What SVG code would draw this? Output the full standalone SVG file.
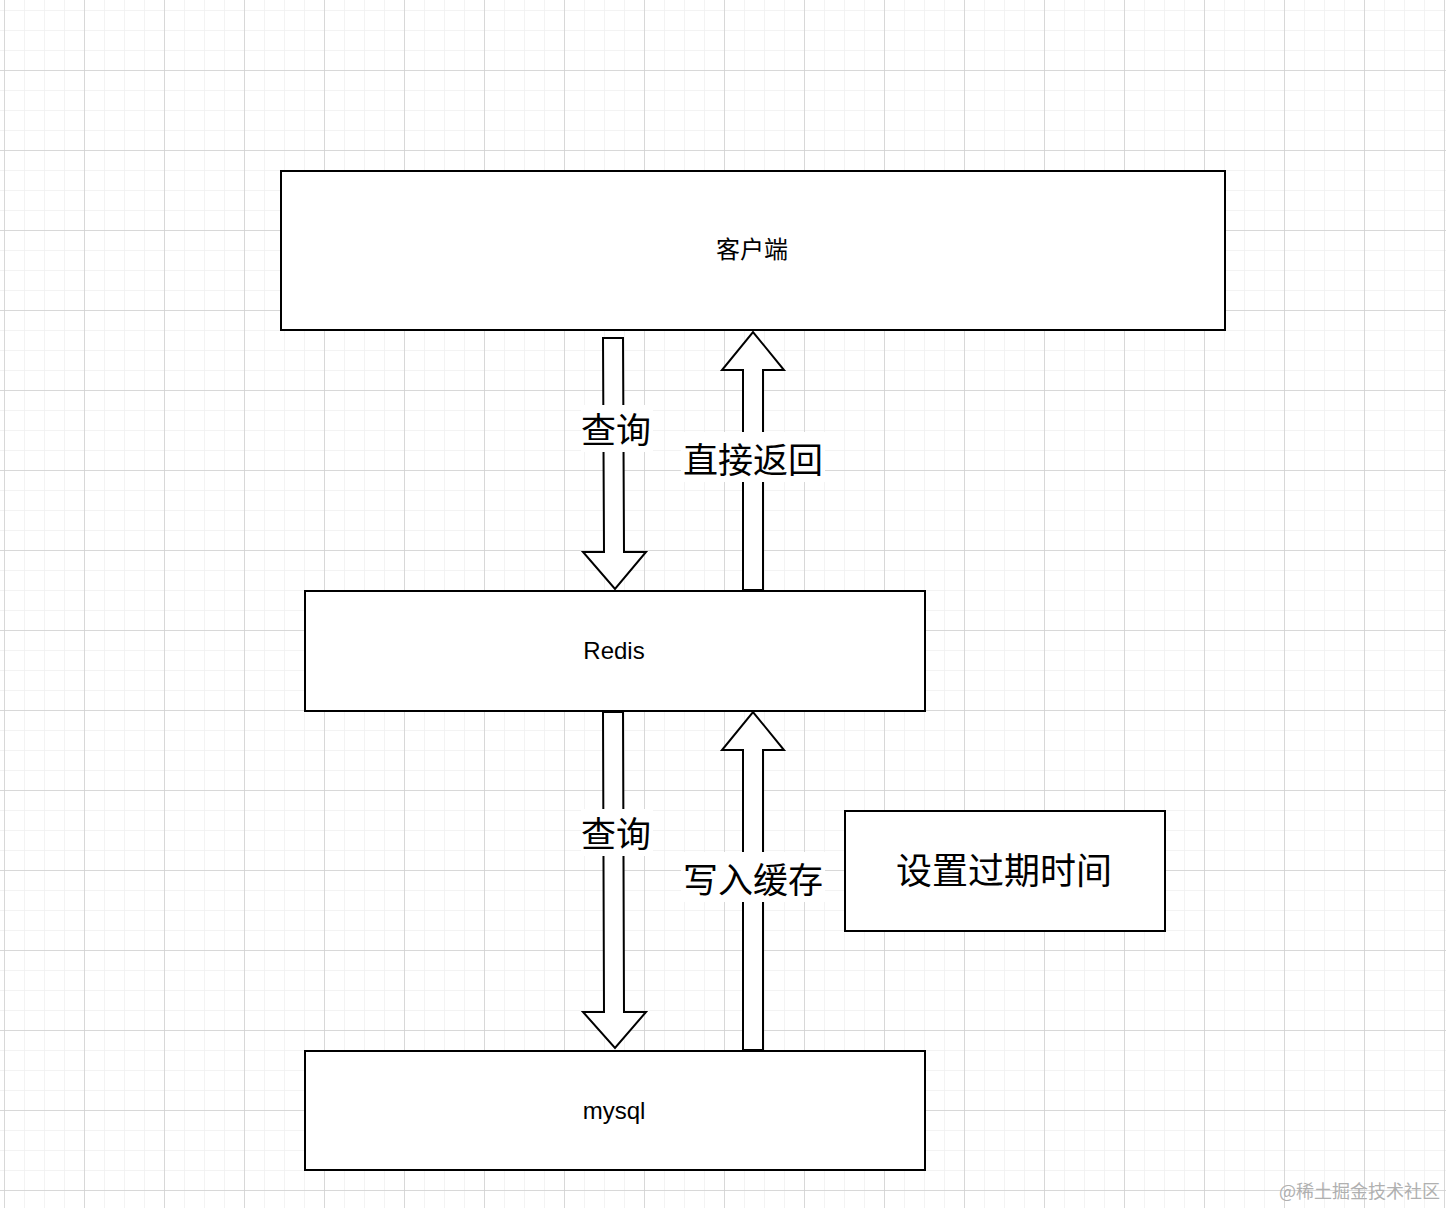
<svg xmlns="http://www.w3.org/2000/svg" width="1446" height="1208" viewBox="0 0 1446 1208">
<defs>
<pattern id="minor" x="4" y="10" width="20" height="20" patternUnits="userSpaceOnUse">
<path d="M0 0H20M0 0V20" fill="none" stroke="#f0f0f0" stroke-width="1.5"/>
</pattern>
<pattern id="major" x="4" y="70" width="80" height="80" patternUnits="userSpaceOnUse">
<path d="M0 0H80M0 0V80" fill="none" stroke="#cfcfcf" stroke-width="1.5"/>
</pattern>
<style>
.box{fill:#fff;stroke:#000;stroke-width:2}
.arr{fill:#fff;stroke:#000;stroke-width:2;stroke-linejoin:miter}
.bg{fill:#fff}
.lbl{font-family:"Noto Sans CJK SC","Noto Sans",sans-serif;font-size:35px;fill:#000;text-anchor:middle;dominant-baseline:central}
.big{font-size:36px}
.nt{font-family:"Liberation Sans","Noto Sans CJK SC",sans-serif;font-size:24px;fill:#000;text-anchor:middle;dominant-baseline:central}
.wm{font-family:"Noto Sans CJK SC",sans-serif;font-size:18px;fill:#b0b0b0;text-anchor:end}
</style>
</defs>
<rect width="1446" height="1208" fill="#fff"/>
<rect width="1446" height="1208" fill="url(#minor)"/>
<rect width="1446" height="1208" fill="url(#major)"/>

<g id="client">
<rect class="box" x="281" y="171" width="944" height="159"/>
<text class="nt" x="752" y="249">客户端</text>
</g>
<g id="redis">
<rect class="box" x="305" y="591" width="620" height="120"/>
<text class="nt" x="614" y="650">Redis</text>
</g>
<g id="mysql">
<rect class="box" x="305" y="1051" width="620" height="119"/>
<text class="nt" x="614" y="1110">mysql</text>
</g>
<g id="expire">
<rect class="box" x="845" y="811" width="320" height="120"/>
<text class="lbl big" x="1004" y="868">设置过期时间</text>
</g>

<g id="connectors">
<g id="q1">
<path class="arr" d="M603 338H623L624 552H646L615 589L583 552H604Z"/>
<rect class="bg" x="581" y="405" width="72" height="47"/>
<text class="lbl" x="616" y="427">查询</text>
</g>
<g id="r1">
<path class="arr" d="M743 590V370H722L753 332L784 370H763V590Z"/>
<rect class="bg" x="681" y="432" width="144" height="50"/>
<text class="lbl" x="753" y="457">直接返回</text>
</g>
<g id="q2">
<path class="arr" d="M603 712H623L624 1012H646L615 1048L583 1012H604Z"/>
<rect class="bg" x="581" y="809" width="72" height="47"/>
<text class="lbl" x="616" y="831">查询</text>
</g>
<g id="w2">
<path class="arr" d="M743 1050V750H722L753 712L784 750H763V1050Z"/>
<rect class="bg" x="681" y="852" width="144" height="50"/>
<text class="lbl" x="753" y="877">写入缓存</text>
</g>
</g>

<text class="wm" x="1440" y="1198">@稀土掘金技术社区</text>
</svg>
